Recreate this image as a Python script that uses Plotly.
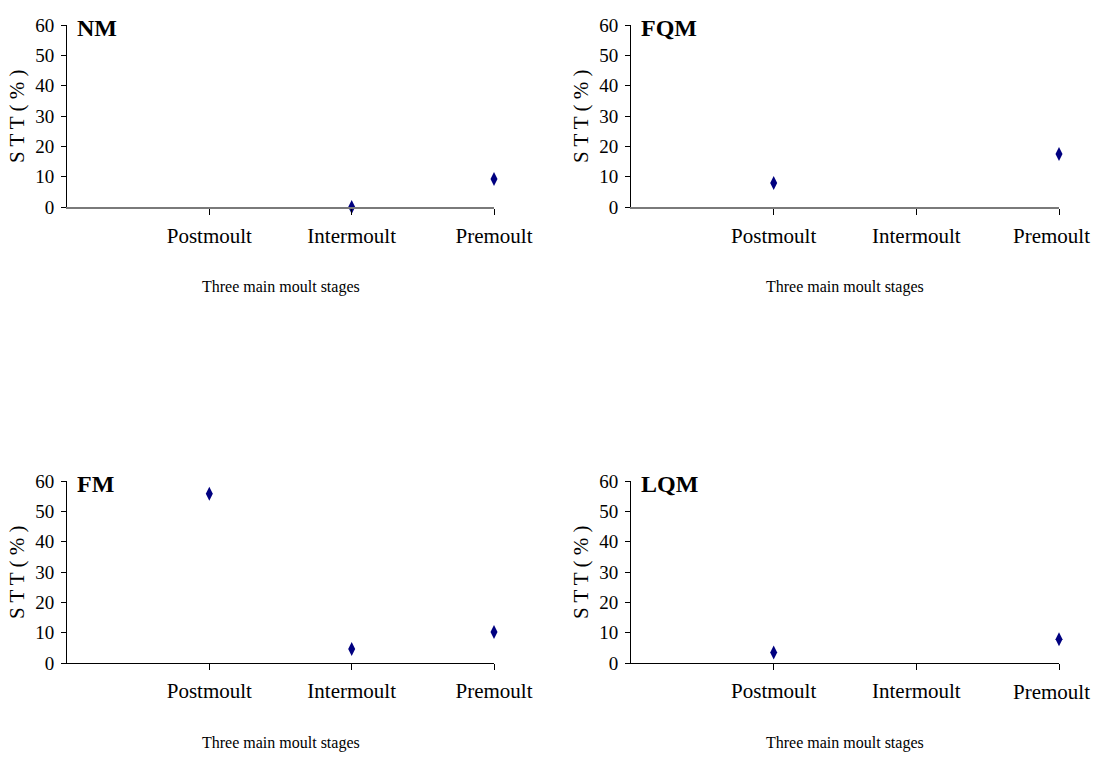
import plotly.graph_objects as go

W, H = 1096, 761

stages = ["Postmoult", "Intermoult", "Premoult"]
panel_names = ["NM", "FQM", "FM", "LQM"]
nm_values = [None, 0.0, 9.2]
fqm_values = [7.9, None, 17.5]
fm_values = [55.8, 4.6, 10.2]
lqm_values = [3.5, None, 7.8]
y_ticks = [0, 10, 20, 30, 40, 50, 60]
x_title = "Three main moult stages"
y_title = "S T T ( % )"

series = [nm_values, fqm_values, fm_values, lqm_values]

# pixel boxes of plot areas: (left, right, top, bottom)
boxes = [(67, 494, 25, 207), (631, 1059, 25, 207),
         (67, 494, 481, 663), (631, 1059, 481, 663)]

FONT = "Liberation Serif"
fig = go.Figure()
for i, (vals, box, name) in enumerate(zip(series, boxes, panel_names)):
    l, r, t, b = box
    n = i + 1
    xa = "x" if n == 1 else f"x{n}"
    ya = "y" if n == 1 else f"y{n}"
    fig.add_trace(go.Scatter(
        x=stages, y=vals, mode="markers", xaxis=xa, yaxis=ya, cliponaxis=False,
        marker=dict(symbol="diamond-tall", size=10, color="#000080"),
        showlegend=False, hoverinfo="x+y"))
    xline = "#7a7a7a" if i < 2 else "black"
    xlw = 2 if i < 2 else 1
    # right-hand panels: the last label is nudged left to stay inside the page
    labels = list(stages)
    right_panel = i % 2 == 1
    if right_panel:
        labels[-1] = ""
    fig.layout[f"xaxis{'' if n == 1 else n}"] = dict(
        domain=[l / W, r / W], anchor=ya, type="category",
        categoryorder="array", categoryarray=stages, range=[-1, 2],
        tickvals=stages, ticktext=labels,
        showline=True, linecolor=xline, linewidth=xlw,
        ticks="outside", ticklen=6, tickcolor="black", tickwidth=1,
        showgrid=False, zeroline=False, ticklabelstandoff=3,
        tickfont=dict(family=FONT, size=21, color="black"), fixedrange=True)
    fig.layout[f"yaxis{'' if n == 1 else n}"] = dict(
        domain=[1 - b / H, 1 - t / H], anchor=xa, range=[0, 60],
        tickvals=y_ticks, showline=True, linecolor="black", linewidth=1,
        ticks="outside", ticklen=5, tickcolor="black", showgrid=False,
        zeroline=False, ticklabelstandoff=3,
        tickfont=dict(family=FONT, size=19, color="black"), fixedrange=True)
    if right_panel:
        fig.add_annotation(x=stages[-1], xref=xa, y=1 - (b + 29) / H, yref="paper",
                           text=stages[-1], showarrow=False, xanchor="center",
                           yanchor="middle", xshift=-8,
                           font=dict(family=FONT, size=21, color="black"))
    # panel label
    fig.add_annotation(x=(l + 8) / W, y=1 - (t + 3) / H, xref="paper", yref="paper",
                       text=f"<b>{name}</b>", showarrow=False, xanchor="left",
                       yanchor="middle", font=dict(family=FONT, size=24, color="black"))
    # x title
    fig.add_annotation(x=(l + r) / 2 / W, y=1 - (b + 80) / H, xref="paper", yref="paper",
                       text=x_title, showarrow=False, xanchor="center", yanchor="middle",
                       font=dict(family=FONT, size=16, color="black"))
    # y title
    fig.add_annotation(x=(l - 50) / W, y=1 - ((t + b) / 2) / H, xref="paper", yref="paper",
                       text=y_title, showarrow=False, textangle=-90, xanchor="center",
                       yanchor="middle", font=dict(family=FONT, size=21, color="black"))

fig.update_layout(width=W, height=H, autosize=False,
                  margin=dict(l=0, r=0, t=0, b=0, autoexpand=False),
                  paper_bgcolor="white", plot_bgcolor="white")
fig.write_html("out.html", config={"displayModeBar": False, "responsive": False},
               post_script="document.body.style.margin='0';document.body.style.overflow='hidden';")
